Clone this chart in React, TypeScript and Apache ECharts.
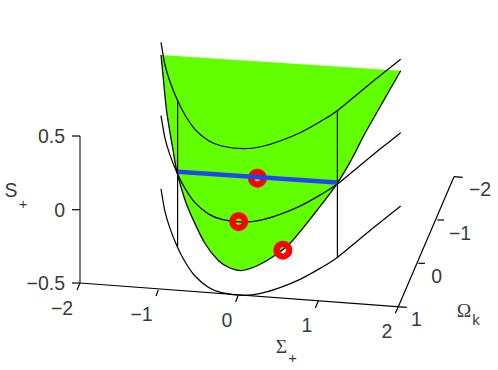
import React, { useEffect, useRef } from "react";
import * as echarts from "echarts";

type P = [number, number];

// Everything: [horizontal, vertical] in the plane of the image.
const upperCurve: P[] = [[161,42.3],[165,65],[170,81.7],[177.3,100],[185,115],[195,129.3],[208.3,140.5],[221.7,146],[243.3,148.7],[261.7,146.5],[280,141],[300,132.7],[320,121.7],[337.3,110.7],[360,92],[380,75.7],[400.7,59.3]];
const middleCurve: P[] = [[161,115.7],[165,138.4],[170,155.1],[177.3,173.4],[185,188.4],[195,202.7],[208.3,213.9],[221.7,219.4],[243.3,222.1],[261.7,219.9],[280,214.4],[300,206.1],[320,195.1],[337.3,184.1],[360,165.4],[380,149.1],[400.7,132.7]];
const lowerCurve: P[] = [[161,189],[165,211.7],[170,228.4],[177.3,246.7],[185,261.7],[195,276],[208.3,287.2],[221.7,292.7],[243.3,295.4],[261.7,293.2],[280,287.7],[300,279.4],[320,268.4],[337.3,257.4],[360,238.7],[380,222.4],[400.7,206]];
const surfaceEdge: P[] = [[400.7,70.7],[380,107],[363.3,136.5],[352.3,158],[337.3,183.3],[313.3,215],[290,243.3],[273.3,256.5],[256.7,266],[241.7,270.5],[230,268],[218.3,260.5],[205,243.5],[193.3,220],[185,200],[177.3,173.3],[173,150],[166.7,111.7],[163.3,78.3],[161,55]];
const leftDrop: P[] = [[177.6,100],[177.6,246]];
const rightDrop: P[] = [[337.4,111],[337.4,257]];
const blueSegment: P[] = [[178,171.7],[337.3,182.5]];
const redRings: P[] = [[257.4,178.2],[238.7,221.7],[282.9,250.2]];

const sAxis: P[] = [[80,136],[80,283]];
const sigmaAxis: P[] = [[80,283],[406.7,307.3]];
const omegaAxis: P[] = [[398.3,306.7],[454,176.7]];
const sTicks: P[][] = [[[72,136],[80,136]],[[72,209.7],[80,209.7]],[[72,283],[80,283]]];
const sigmaTicks: P[][] = [[[80,283],[77,290]],[[158.3,290],[156,296]],[[238,295.7],[235.7,302]],[[318.3,301],[315.3,308]],[[398.3,306.7],[395.3,313.3]]];
const omegaTicks: P[][] = [[[454,176.7],[462.7,177.3]],[[437.3,220],[444,220]],[[418.3,263.3],[425,263.3]]];

const sLabels = ["0.5", "0", "\u22120.5"];
const sLabelAt: P[] = [[65,136],[65,210],[65,283]];
const sigmaLabels = ["\u22122", "\u22121", "0", "1", "2"];
const sigmaLabelAt: P[] = [[62,308],[141.5,314],[227,320],[307,325],[387,331]];
const omegaLabels = ["\u22122", "\u22121", "0", "1"];
const omegaLabelAt: P[] = [[480,189],[460,233],[436.7,275.7],[416.5,319]];

const SANS = '"Liberation Sans", Arial, sans-serif';
const SERIF = '"Liberation Serif", serif';

function splinePath(pts: number[][]): string {
  let d = `M${pts[0][0]} ${pts[0][1]}`;
  for (let i = 0; i < pts.length - 1; i++) {
    const p0 = pts[Math.max(i - 1, 0)];
    const p1 = pts[i];
    const p2 = pts[i + 1];
    const p3 = pts[Math.min(i + 2, pts.length - 1)];
    d += `C${p1[0] + (p2[0] - p0[0]) / 6} ${p1[1] + (p2[1] - p0[1]) / 6} ${p2[0] - (p3[0] - p1[0]) / 6} ${p2[1] - (p3[1] - p1[1]) / 6} ${p2[0]} ${p2[1]}`;
  }
  return d;
}

const curveSeries = (data: P[], z: number, width = 1.25) => ({
  type: "custom",
  coordinateSystem: "cartesian2d",
  silent: true,
  z,
  data: [0],
  renderItem: (_p: any, api: any) => ({
    type: "path",
    shape: { pathData: splinePath(data.map((q) => api.coord(q))) },
    style: { fill: "none", stroke: "#000", lineWidth: width },
  }),
});

const straight = (data: P[], z: number, color = "#000", width = 1.2) => ({
  type: "line",
  data,
  z,
  silent: true,
  symbol: "none",
  lineStyle: { color, width, cap: "butt" },
});

const textSeries = (
  texts: string[],
  at: P[],
  size: number,
  font = SANS,
  align = "center",
) => ({
  type: "scatter",
  z: 10,
  silent: true,
  symbolSize: 1,
  itemStyle: { color: "transparent" },
  data: texts.map((t, i) => ({ name: t, value: at[i] })),
  label: {
    show: true,
    position: "inside",
    formatter: "{b}",
    color: "#000",
    fontSize: size,
    fontFamily: font,
    align,
    verticalAlign: "middle",
  },
});

export default function App() {
  const ref = useRef<HTMLDivElement>(null);
  useEffect(() => {
    const chart = echarts.init(ref.current!, null, { renderer: "svg" });
    chart.setOption({
      animation: false,
      backgroundColor: "#fff",
      grid: { left: 0, right: 0, top: 0, bottom: 0 },
      xAxis: { type: "value", min: 0, max: 498, show: false },
      yAxis: { type: "value", min: 0, max: 370, inverse: true, show: false },
      series: [
        {
          type: "custom",
          coordinateSystem: "cartesian2d",
          silent: true,
          z: 1,
          data: [0],
          renderItem: (_p: any, api: any) => ({
            type: "path",
            shape: { pathData: splinePath(surfaceEdge.map((q) => api.coord(q))) + "Z" },
            style: { fill: "#62ff00", stroke: "none" },
          }),
        },
        curveSeries(surfaceEdge, 2),
        curveSeries(upperCurve, 3),
        curveSeries(middleCurve, 3),
        curveSeries(lowerCurve, 3),
        straight(leftDrop, 3),
        straight(rightDrop, 3),
        {
          type: "custom",
          coordinateSystem: "cartesian2d",
          silent: true,
          z: 4,
          data: redRings,
          encode: { x: 0, y: 1 },
          renderItem: (_p: any, api: any) => {
            const c = api.coord([api.value(0), api.value(1)]);
            return {
              type: "circle",
              shape: { cx: c[0], cy: c[1], r: 6.3 },
              style: { fill: "none", stroke: "#ff0000", lineWidth: 6.2 },
            };
          },
        },
        straight(blueSegment, 5, "#2244f5", 4.5),
        straight(sAxis, 3, "#000", 1),
        straight(sigmaAxis, 3),
        straight(omegaAxis, 3),
        ...sTicks.map((t) => straight(t, 3)),
        ...sigmaTicks.map((t) => straight(t, 3)),
        ...omegaTicks.map((t) => straight(t, 3)),
        textSeries(sLabels, sLabelAt, 19.5, SANS, "right"),
        textSeries(sigmaLabels, sigmaLabelAt, 19.5),
        textSeries(omegaLabels, omegaLabelAt, 19.5),
        textSeries(["S"], [[11, 190]], 19.5),
        textSeries(["+"], [[23, 203]], 15),
        textSeries(["\u03a3"], [[281.5, 346.5]], 19.5, SERIF),
        textSeries(["+"], [[292.5, 357]], 15),
        textSeries(["\u03a9"], [[464, 310]], 19.5, SERIF),
        textSeries(["k"], [[476, 319]], 15),
      ],
    });
    return () => chart.dispose();
  }, []);
  return <div ref={ref} style={{ position: "absolute", left: 0, top: 0, width: 498, height: 370 }} />;
}
